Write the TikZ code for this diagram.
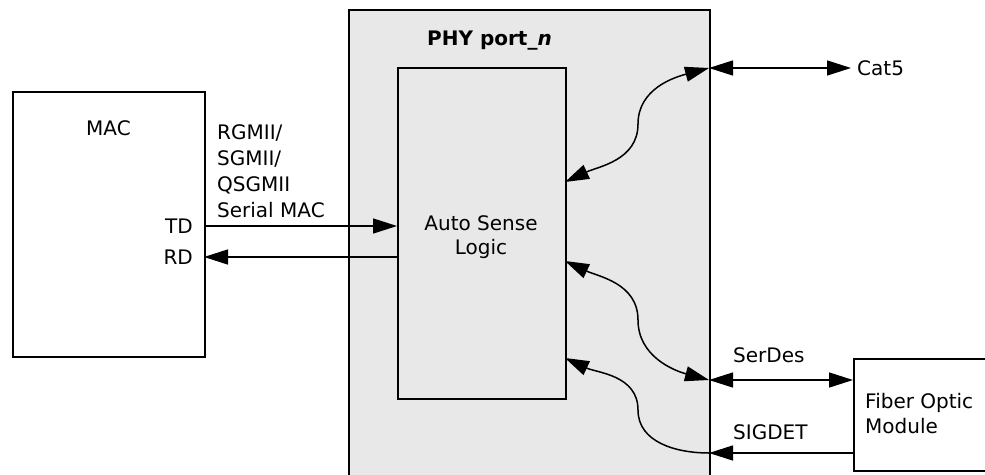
\documentclass[tikz,border=0pt]{standalone}
\usepackage{fontspec}
\setmainfont{DejaVu Sans}
\usetikzlibrary{arrows.meta}
\begin{document}
\begin{tikzpicture}[x=1pt,y=-1pt,
  box/.style={draw=black,line width=2.4pt,inner sep=0pt,anchor=north west},
  lbl/.style={font=\fontsize{20}{24}\selectfont,inner sep=0pt,anchor=base west},
  conn/.style={line width=1.5pt},
  >={Triangle[length=24pt,width=15pt]}]
\useasboundingbox (0,0) rectangle (985,474);
% boxes
\node[box,fill=black!9,minimum width=361pt,minimum height=480pt] (phy) at (348,9) {};
\node[box,minimum width=168pt,minimum height=331pt] (asl) at (397,67) {};
\node[box,minimum width=192pt,minimum height=265pt] (mac) at (12,91) {};
\node[box,minimum width=150pt,minimum height=112pt] (fom) at (853,358) {};
% labels
\node[lbl,font=\fontsize{20}{24}\selectfont\bfseries] (phyl) at (427,45) {PHY port\_\textit{n}};
\node[lbl,anchor=base] (asl1) at (481,230) {Auto Sense};
\node[lbl,anchor=base] (asl2) at (481,254) {Logic};
\node[lbl,anchor=base] (macl) at (108.5,135) {MAC};
\node[lbl,anchor=base east] (td) at (193,233) {TD};
\node[lbl,anchor=base east] (rd) at (193,264) {RD};
\node[lbl] (if1) at (217,139) {RGMII/};
\node[lbl] (if2) at (217,165) {SGMII/};
\node[lbl] (if3) at (217,191) {QSGMII};
\node[lbl] (if4) at (217,217) {Serial MAC};
\node[lbl] (cat5) at (857,75) {Cat5};
\node[lbl] (serdes) at (733,362) {SerDes};
\node[lbl] (sigdet) at (733,439) {SIGDET};
\node[lbl] (fom1) at (865,408) {Fiber Optic};
\node[lbl] (fom2) at (865,433) {Module};
% connection points
\coordinate (tdA) at (204,226);
\coordinate (tdB) at (397,226);
\coordinate (rdA) at (397,257);
\coordinate (rdB) at (204,257);
\coordinate (c1a) at (565,182);
\coordinate (c1b) at (709,68);
\coordinate (c1m) at (638,124);
\coordinate (cat5e) at (851,68);
\coordinate (c2a) at (565,261);
\coordinate (c2b) at (709,380);
\coordinate (c2m) at (638,320);
\coordinate (sdE) at (853,380);
\coordinate (c3a) at (565,358);
\coordinate (c3b) at (709,453);
\coordinate (c3m) at (638,410);
\coordinate (sgE) at (853,453);
% connectors
\draw[conn,->] (tdA) -- (tdB);
\draw[conn,->] (rdA) -- (rdB);
\draw[conn,<->] (c1a) to[out=25,in=-90] (c1m) to[out=90,in=195] (c1b);
\draw[conn,<->] (c1b) -- (cat5e);
\draw[conn,<->] (c2a) to[out=-25,in=90] (c2m) to[out=-90,in=165] (c2b);
\draw[conn,<->] (c2b) -- (sdE);
\draw[conn,<-] (c3a) to[out=-25,in=90] (c3m) to[out=-90,in=180] (c3b);
\draw[conn,->] (sgE) -- (c3b);
\end{tikzpicture}
\end{document}
